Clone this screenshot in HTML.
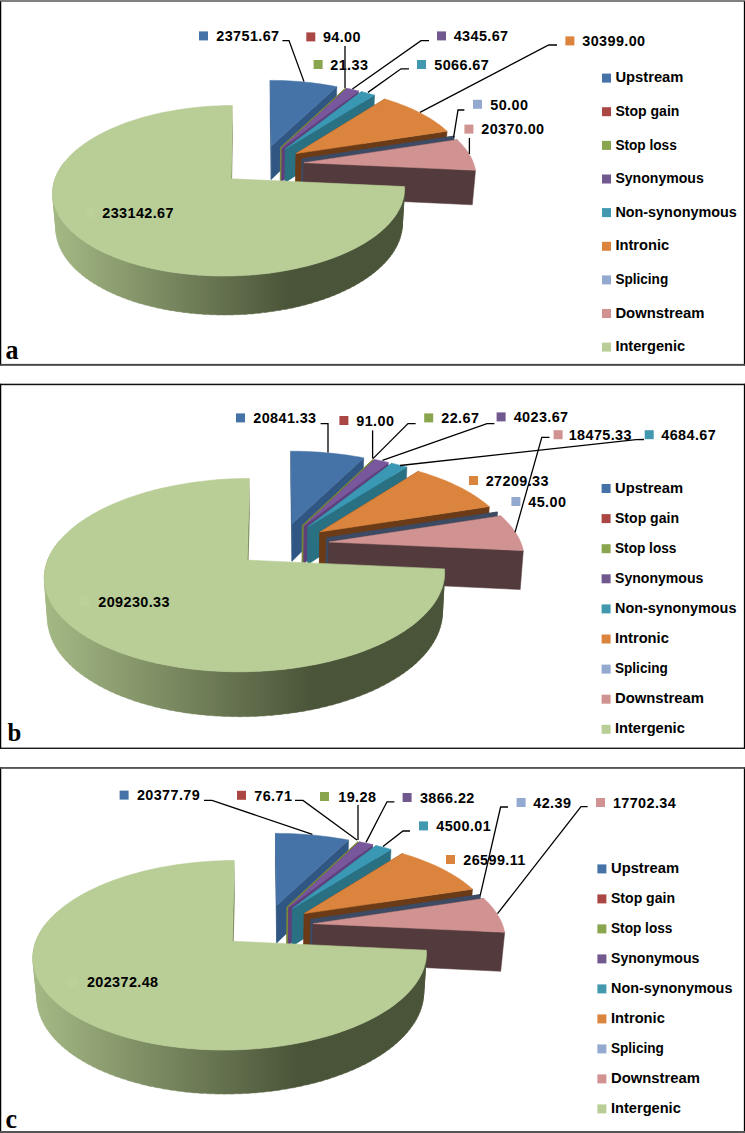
<!DOCTYPE html>
<html><head><meta charset="utf-8"><title>Figure</title>
<style>html,body{margin:0;padding:0;background:#fff}body{width:745px;height:1133px;overflow:hidden;font-family:"Liberation Sans",sans-serif}</style></head>
<body>
<svg width="745" height="1133" viewBox="0 0 745 1133" style="display:block">
<defs><linearGradient id="gA" gradientUnits="userSpaceOnUse" x1="52" y1="0" x2="290" y2="0"><stop offset="0" stop-color="#A5B985"/><stop offset="1" stop-color="#4A5438"/></linearGradient><linearGradient id="gB" gradientUnits="userSpaceOnUse" x1="43.6" y1="0" x2="314" y2="0"><stop offset="0" stop-color="#A5B985"/><stop offset="1" stop-color="#4A5438"/></linearGradient><linearGradient id="gC" gradientUnits="userSpaceOnUse" x1="32.4" y1="0" x2="299" y2="0"><stop offset="0" stop-color="#A5B985"/><stop offset="1" stop-color="#4A5438"/></linearGradient></defs>
<rect width="745" height="1133" fill="#fff"/>
<g>
<rect x="0" y="0" width="1.25" height="365.5" fill="#000"/>
<rect x="743.85" y="0" width="1.15" height="365.5" fill="#000"/>
<rect x="0" y="383.8" width="1.25" height="365" fill="#000"/>
<rect x="743.85" y="383.8" width="1.15" height="365" fill="#000"/>
<rect x="0" y="767.2" width="1.25" height="365.8" fill="#000"/>
<rect x="743.85" y="767.2" width="1.15" height="365.8" fill="#000"/>
<rect x="0" y="0" width="745" height="1" fill="#808080"/><rect x="0" y="1" width="745" height="0.7" fill="#4a4a4a"/>
<rect x="0" y="363.9" width="745" height="1.9" fill="#444"/>
<rect x="0" y="383.7" width="745" height="1.5" fill="#111"/>
<rect x="0" y="747.6" width="745" height="1.35" fill="#111"/>
<rect x="0" y="767.1" width="745" height="1.7" fill="#444"/>
<rect x="0" y="1131" width="745" height="2" fill="#555"/>
</g>
<g shape-rendering="geometricPrecision">
<path d="M271.3,146 L270.2,80.4 L270.1,110.7 L271.2,179.5Z" fill="#305683" stroke="#305683" stroke-width="0.5" stroke-linejoin="round"/>
<path d="M271.3,146 L336.8,86.7 L335.9,117.4 L271.2,179.5Z" fill="#305683" stroke="#305683" stroke-width="0.5" stroke-linejoin="round"/>
<path d="M271.3,146 L270.2,80.4 L274.2,80.4 L278.2,80.5 L282.2,80.6 L286.2,80.7 L290.2,80.9 L294.2,81.2 L298.1,81.5 L302.1,81.8 L306,82.2 L310,82.6 L313.9,83.1 L317.8,83.6 L321.6,84.1 L325.5,84.7 L329.3,85.3 L333.1,86 L336.8,86.7Z" fill="#4572A7" stroke="#4572A7" stroke-width="0.5" stroke-linejoin="round"/>
<path d="M280.5,147.5 L345.5,88 L344.5,118.8 L280.3,181.1Z" fill="#78863A" stroke="#78863A" stroke-width="0.9" stroke-linejoin="round"/>
<path d="M282.1,147.9 L347,88.3 L345.9,119.1 L281.8,181.5Z" fill="#5F407C" stroke="#5F407C" stroke-width="0.5" stroke-linejoin="round"/>
<path d="M282.1,147.9 L358.5,90.9 L357.3,121.8 L281.8,181.5Z" fill="#5F407C" stroke="#5F407C" stroke-width="0.5" stroke-linejoin="round"/>
<path d="M282.1,147.9 L347,88.3 L350.9,89.1 L354.7,90 L358.5,90.9Z" fill="#79579D" stroke="#79579D" stroke-width="0.5" stroke-linejoin="round"/>
<path d="M285.4,148.9 L361.6,91.6 L360.3,122.5 L285.1,182.5Z" fill="#2A7083" stroke="#2A7083" stroke-width="0.5" stroke-linejoin="round"/>
<path d="M285.4,148.9 L374.6,95.1 L373.1,126.2 L285.1,182.5Z" fill="#2A7083" stroke="#2A7083" stroke-width="0.5" stroke-linejoin="round"/>
<path d="M285.4,148.9 L361.6,91.6 L366,92.8 L370.3,93.9 L374.6,95.1Z" fill="#3B98B4" stroke="#3B98B4" stroke-width="0.5" stroke-linejoin="round"/>
<path d="M296,153.6 L384.8,99 L383.2,130.2 L295.5,187.4Z" fill="#6A3B16" stroke="#6A3B16" stroke-width="0.5" stroke-linejoin="round"/>
<path d="M296,153.6 L447.1,131.2 L444.5,164 L295.5,187.4Z" fill="#6A3B16" stroke="#6A3B16" stroke-width="0.5" stroke-linejoin="round"/>
<path d="M296,153.6 L384.8,99 L388.3,100.1 L391.7,101.2 L395.1,102.3 L398.5,103.5 L401.7,104.7 L405,106 L408.1,107.3 L411.2,108.6 L414.3,110 L417.3,111.4 L420.2,112.9 L423,114.4 L425.8,115.9 L428.5,117.5 L431.1,119.1 L433.6,120.7 L436.1,122.4 L438.4,124.1 L440.7,125.8 L442.9,127.6 L445,129.4 L447.1,131.2Z" fill="#DB843D" stroke="#DB843D" stroke-width="0.5" stroke-linejoin="round"/>
<path d="M302,158.8 L454.1,136 L451.5,169 L301.4,192.8Z" fill="#3D4A63" stroke="#3D4A63" stroke-width="0.5" stroke-linejoin="round"/>
<path d="M302,158.8 L454.2,136.1 L451.5,169.1 L301.4,192.8Z" fill="#3D4A63" stroke="#3D4A63" stroke-width="0.5" stroke-linejoin="round"/>
<path d="M304,162.7 L457.2,139.7 L454.4,172.8 L303.4,196.9Z" fill="#533A3C" stroke="#533A3C" stroke-width="0.5" stroke-linejoin="round"/>
<path d="M304,162.7 L475.5,170.3 L472.3,204.8 L303.4,196.9Z" fill="#533A3C" stroke="#533A3C" stroke-width="0.5" stroke-linejoin="round"/>
<path d="M304,162.7 L457.2,139.7 L459.1,141.6 L461,143.5 L462.7,145.4 L464.4,147.4 L465.9,149.3 L467.4,151.3 L468.7,153.4 L470,155.4 L471.1,157.5 L472.1,159.6 L473,161.7 L473.8,163.8 L474.5,166 L475,168.1 L475.5,170.3Z" fill="#D19392" stroke="#D19392" stroke-width="0.5" stroke-linejoin="round"/>
<path d="M231,178.8 L232.4,105.5 L232.8,137.1 L231.5,213.7Z" fill="#7F8F62" />
<path d="M404.5,186.6 L404.5,191.1 L402.3,226.6 L402.4,221.9ZM402.4,225 L402,229.7 L404.2,194.1 L404.6,189.6ZM402.2,228.2 L401.5,232.9 L403.7,197.2 L404.4,192.6ZM401.8,231.3 L400.7,236 L402.9,200.2 L404,195.7ZM401.1,234.5 L399.8,239.2 L401.9,203.2 L403.3,198.7ZM400.3,237.6 L398.6,242.4 L400.7,206.3 L402.5,201.7ZM399.2,240.8 L397.1,245.5 L399.3,209.3 L401.4,204.8ZM397.9,243.9 L395.5,248.7 L397.6,212.3 L400,207.8ZM396.3,247.1 L393.6,251.8 L395.7,215.3 L398.5,210.8ZM394.6,250.2 L391.5,254.9 L393.6,218.3 L396.7,213.8ZM392.6,253.4 L389.1,258 L391.2,221.3 L394.7,216.8ZM390.3,256.5 L386.5,261.1 L388.6,224.2 L392.4,219.8ZM387.9,259.5 L383.7,264.1 L385.7,227.1 L389.9,222.7ZM385.2,262.6 L380.7,267.1 L382.6,230 L387.2,225.7ZM382.2,265.6 L377.4,270 L379.3,232.8 L384.2,228.5ZM379.1,268.5 L373.9,272.9 L375.8,235.6 L381,231.4ZM375.7,271.4 L370.2,275.7 L372,238.3 L377.6,234.2ZM372.1,274.3 L366.3,278.5 L368,241 L373.9,236.9ZM368.3,277.1 L362.1,281.2 L363.8,243.6 L370,239.6ZM364.2,279.8 L357.8,283.8 L359.4,246.1 L365.9,242.3ZM360,282.5 L353.2,286.4 L354.7,248.5 L361.6,244.8ZM355.5,285.1 L348.4,288.9 L349.9,250.9 L357.1,247.3ZM350.8,287.6 L343.4,291.3 L344.8,253.2 L352.3,249.7ZM345.9,290.1 L338.3,293.6 L339.6,255.4 L347.4,252.1ZM340.9,292.4 L332.9,295.8 L334.2,257.6 L342.2,254.4ZM335.6,294.7 L327.4,297.9 L328.6,259.6 L336.9,256.5ZM330.2,296.8 L321.7,299.9 L322.8,261.5 L331.4,258.6ZM324.6,298.9 L315.9,301.8 L316.8,263.3 L325.7,260.6ZM318.8,300.8 L309.9,303.5 L310.7,265.1 L319.8,262.4ZM312.9,302.7 L303.8,305.2 L304.5,266.7 L313.8,264.2ZM306.8,304.4 L297.5,306.8 L298.1,268.1 L307.6,265.9ZM300.6,306 L291.1,308.2 L291.6,269.5 L301.3,267.4ZM294.3,307.5 L284.6,309.5 L285,270.7 L294.9,268.8ZM287.9,308.8 L278,310.6 L278.3,271.9 L288.3,270.1ZM281.3,310.1 L271.3,311.6 L271.5,272.8 L281.7,271.3ZM274.7,311.1 L264.6,312.5 L264.6,273.7 L274.9,272.4ZM267.9,312.1 L257.7,313.3 L257.7,274.4 L268.1,273.3ZM261.1,312.9 L250.8,313.9 L250.7,275 L261.1,274.1ZM254.3,313.6 L243.9,314.4 L243.6,275.5 L254.2,274.7ZM247.4,314.1 L237,314.7 L236.5,275.8 L247.1,275.2ZM240.5,314.5 L230,314.9 L229.5,276 L240.1,275.6ZM233.5,314.8 L223,314.9 L222.4,276 L233,275.9ZM226.5,314.9 L216.1,314.8 L215.3,275.9 L225.9,276ZM219.6,314.9 L209.2,314.6 L208.2,275.7 L218.8,276ZM212.6,314.7 L202.3,314.2 L201.2,275.3 L211.8,275.8ZM205.7,314.4 L195.4,313.6 L194.2,274.8 L204.7,275.5ZM198.8,313.9 L188.6,313 L187.3,274.1 L197.7,275ZM192,313.3 L181.9,312.2 L180.5,273.3 L190.8,274.5ZM185.2,312.6 L175.3,311.2 L173.7,272.4 L183.9,273.7ZM178.6,311.7 L168.7,310.1 L167.1,271.4 L177.1,272.9ZM172,310.7 L162.3,308.9 L160.6,270.2 L170.4,271.9ZM165.5,309.5 L156,307.6 L154.1,268.9 L163.8,270.8ZM159.1,308.3 L149.8,306.1 L147.8,267.5 L157.3,269.6ZM152.9,306.8 L143.7,304.5 L141.7,266 L151,268.2ZM146.8,305.3 L137.8,302.8 L135.7,264.3 L144.7,266.8ZM140.8,303.7 L132.1,301 L129.9,262.6 L138.7,265.2ZM135,301.9 L126.5,299 L124.2,260.7 L132.8,263.5ZM129.3,300 L121.1,297 L118.7,258.7 L127,261.6ZM123.8,298 L115.9,294.8 L113.4,256.7 L121.4,259.7ZM118.5,295.9 L110.9,292.6 L108.3,254.5 L116,257.7ZM113.4,293.7 L106,290.2 L103.4,252.2 L110.8,255.6ZM108.4,291.4 L101.4,287.8 L98.7,249.9 L105.8,253.4ZM103.7,289 L97,285.3 L94.2,247.5 L101,251.1ZM99.2,286.6 L92.8,282.7 L89.9,245 L96.4,248.7ZM94.8,284 L88.8,280 L85.9,242.4 L92,246.3ZM90.7,281.4 L85,277.3 L82,239.8 L87.8,243.7ZM86.8,278.7 L81.4,274.5 L78.4,237.1 L83.9,241.1ZM83.2,275.9 L78.1,271.6 L75.1,234.4 L80.2,238.5ZM79.7,273.1 L75,268.7 L71.9,231.6 L76.7,235.8ZM76.5,270.2 L72.1,265.8 L69,228.7 L73.5,233ZM73.5,267.3 L69.5,262.8 L66.4,225.9 L70.4,230.2ZM70.8,264.3 L67.1,259.7 L63.9,222.9 L67.7,227.3ZM68.3,261.3 L64.9,256.7 L61.7,220 L65.1,224.4ZM66,258.2 L63,253.6 L59.8,217 L62.8,221.5ZM63.9,255.1 L61.3,250.4 L58.1,214 L60.7,218.5ZM62.1,252 L59.8,247.3 L56.6,211 L58.9,215.5ZM60.5,248.9 L58.6,244.2 L55.4,208 L57.3,212.5ZM59.2,245.7 L57.6,241 L54.4,205 L56,209.5ZM58.1,242.6 L56.8,237.8 L53.6,201.9 L54.8,206.5ZM57.2,239.4 L56.3,234.7 L53,198.9 L53.9,203.4ZM56.5,236.3 L55.9,231.5 L52.7,195.9 L53.3,200.4ZM52.9,197.4 L52.6,192.8 L55.8,228.4 L56.1,233.1ZM52.7,194.3 L52.8,189.8 L55.9,225.2 L55.9,229.9ZM52.7,191.3 L53.1,186.8 L56.3,222.1 L55.9,226.8ZM52.9,188.3 L53.7,183.9 L56.8,219 L56.1,223.7ZM53.4,185.3 L54.4,180.9 L57.5,215.9 L56.5,220.5ZM54,182.4 L55.4,178 L58.5,212.9 L57.1,217.5ZM54.9,179.5 L56.6,175.1 L59.6,209.9 L58,214.4ZM56,176.5 L57.9,172.2 L60.9,206.9 L59,211.4ZM57.2,173.7 L59.5,169.4 L62.5,203.9 L60.2,208.4ZM58.7,170.8 L61.2,166.6 L64.2,201 L61.7,205.4ZM60.3,168 L63.2,163.9 L66.1,198.1 L63.3,202.5ZM62.2,165.3 L64.8,161.8 L67.7,195.9 L65.1,199.6ZM64.2,162.5 L64.8,161.8 L67.7,195.9 L67.1,196.7Z" fill="url(#gA)" fill-rule="nonzero" stroke="url(#gA)" stroke-width="0.4"/>
<path d="M231,178.8 L404.5,186.6 L404.6,188.9 L404.5,191.1 L404.3,193.4 L404,195.7 L403.5,198 L402.9,200.2 L402.2,202.5 L401.4,204.8 L400.4,207.1 L399.3,209.3 L398,211.6 L396.7,213.9 L395.2,216.1 L393.5,218.4 L391.7,220.6 L389.8,222.8 L387.8,225 L385.6,227.2 L383.3,229.3 L380.9,231.5 L378.3,233.6 L375.7,235.7 L372.8,237.7 L369.9,239.7 L366.8,241.7 L363.6,243.7 L360.3,245.6 L356.9,247.4 L353.3,249.3 L349.6,251 L345.9,252.8 L342,254.5 L338,256.1 L333.9,257.7 L329.7,259.2 L325.3,260.7 L321,262.1 L316.5,263.4 L311.9,264.7 L307.2,266 L302.5,267.1 L297.7,268.2 L292.8,269.3 L287.9,270.2 L282.9,271.1 L277.8,271.9 L272.7,272.7 L267.5,273.4 L262.3,273.9 L257.1,274.5 L251.8,274.9 L246.5,275.3 L241.2,275.6 L235.9,275.8 L230.6,275.9 L225.3,276 L219.9,276 L214.6,275.9 L209.3,275.7 L204,275.4 L198.8,275.1 L193.5,274.7 L188.4,274.2 L183.2,273.7 L178.1,273 L173,272.3 L168,271.5 L163.1,270.7 L158.2,269.8 L153.4,268.8 L148.7,267.7 L144,266.6 L139.5,265.4 L135,264.1 L130.6,262.8 L126.3,261.4 L122.1,260 L118,258.5 L114,256.9 L110.2,255.3 L106.4,253.7 L102.7,251.9 L99.2,250.2 L95.8,248.4 L92.5,246.5 L89.3,244.6 L86.3,242.7 L83.4,240.8 L80.6,238.8 L77.9,236.7 L75.4,234.7 L73,232.6 L70.7,230.4 L68.6,228.3 L66.6,226.1 L64.7,223.9 L63,221.7 L61.4,219.5 L60,217.3 L58.6,215 L57.4,212.8 L56.4,210.5 L55.5,208.2 L54.7,206 L54,203.7 L53.5,201.4 L53.1,199.1 L52.8,196.8 L52.7,194.6 L52.6,192.3 L52.7,190 L53,187.8 L53.3,185.5 L53.8,183.3 L54.4,181.1 L55.1,178.9 L55.9,176.7 L56.8,174.6 L57.8,172.4 L59,170.3 L60.2,168.2 L61.6,166.1 L63.1,164 L64.6,162 L66.3,160 L68,158 L69.9,156 L71.8,154.1 L73.9,152.2 L76,150.3 L78.2,148.5 L80.5,146.7 L82.9,144.9 L85.3,143.2 L87.8,141.5 L90.4,139.8 L93.1,138.2 L95.9,136.6 L98.7,135 L101.6,133.5 L104.5,132 L107.5,130.5 L110.6,129.1 L113.8,127.7 L116.9,126.4 L120.2,125.1 L123.5,123.8 L126.8,122.6 L130.2,121.4 L133.7,120.3 L137.2,119.2 L140.7,118.1 L144.3,117.1 L147.9,116.1 L151.5,115.2 L155.2,114.3 L158.9,113.4 L162.6,112.6 L166.4,111.9 L170.2,111.2 L174,110.5 L177.9,109.8 L181.8,109.3 L185.7,108.7 L189.6,108.2 L193.5,107.7 L197.4,107.3 L201.4,107 L205.4,106.6 L209.4,106.3 L213.3,106.1 L217.3,105.9 L221.3,105.7 L225.3,105.6 L229.3,105.6 L232.4,105.5Z" fill="#B9CD96" stroke="#B9CD96" stroke-width="0.6" stroke-linejoin="round"/>
<path d="M292.1,523.7 L290.8,451.2 L290.7,484.7 L292,561.2Z" fill="#305683" stroke="#305683" stroke-width="0.5" stroke-linejoin="round"/>
<path d="M292.1,523.7 L363.7,457.9 L362.8,491.8 L292,561.2Z" fill="#305683" stroke="#305683" stroke-width="0.5" stroke-linejoin="round"/>
<path d="M292.1,523.7 L290.8,451.2 L295.2,451.2 L299.6,451.3 L303.9,451.4 L308.3,451.6 L312.7,451.8 L317,452 L321.4,452.3 L325.7,452.7 L330,453.1 L334.3,453.5 L338.6,454 L342.8,454.5 L347.1,455.1 L351.3,455.7 L355.5,456.4 L359.6,457.1 L363.7,457.9Z" fill="#4572A7" stroke="#4572A7" stroke-width="0.5" stroke-linejoin="round"/>
<path d="M302.3,525.4 L373.2,459.2 L372.2,493.2 L302,562.9Z" fill="#78863A" stroke="#78863A" stroke-width="0.9" stroke-linejoin="round"/>
<path d="M304.1,525.8 L374.9,459.5 L373.9,493.5 L303.8,563.4Z" fill="#5F407C" stroke="#5F407C" stroke-width="0.5" stroke-linejoin="round"/>
<path d="M304.1,525.8 L388.3,462.4 L387.1,496.5 L303.8,563.4Z" fill="#5F407C" stroke="#5F407C" stroke-width="0.5" stroke-linejoin="round"/>
<path d="M304.1,525.8 L374.9,459.5 L379.4,460.4 L383.9,461.4 L388.3,462.4Z" fill="#79579D" stroke="#79579D" stroke-width="0.5" stroke-linejoin="round"/>
<path d="M307.9,526.8 L391.8,463.2 L390.6,497.4 L307.6,564.5Z" fill="#2A7083" stroke="#2A7083" stroke-width="0.5" stroke-linejoin="round"/>
<path d="M307.9,526.8 L406.9,467.1 L405.5,501.5 L307.6,564.5Z" fill="#2A7083" stroke="#2A7083" stroke-width="0.5" stroke-linejoin="round"/>
<path d="M307.9,526.8 L391.8,463.2 L396.9,464.4 L401.9,465.8 L406.9,467.1Z" fill="#3B98B4" stroke="#3B98B4" stroke-width="0.5" stroke-linejoin="round"/>
<path d="M319.8,532 L418.3,471.3 L416.8,505.9 L319.3,570Z" fill="#6A3B16" stroke="#6A3B16" stroke-width="0.5" stroke-linejoin="round"/>
<path d="M319.8,532 L489.3,506.6 L486.8,543.2 L319.3,570Z" fill="#6A3B16" stroke="#6A3B16" stroke-width="0.5" stroke-linejoin="round"/>
<path d="M319.8,532 L418.3,471.3 L422.2,472.4 L426.1,473.6 L429.9,474.9 L433.7,476.2 L437.4,477.5 L441.1,478.9 L444.7,480.3 L448.2,481.8 L451.6,483.3 L455,484.9 L458.3,486.5 L461.6,488.1 L464.7,489.8 L467.8,491.5 L470.8,493.3 L473.7,495.1 L476.6,496.9 L479.3,498.8 L481.9,500.7 L484.5,502.6 L486.9,504.6 L489.3,506.6Z" fill="#DB843D" stroke="#DB843D" stroke-width="0.5" stroke-linejoin="round"/>
<path d="M326.5,537.8 L497.3,511.9 L494.7,548.7 L326,576Z" fill="#3D4A63" stroke="#3D4A63" stroke-width="0.5" stroke-linejoin="round"/>
<path d="M326.5,537.8 L497.4,512 L494.8,548.8 L326,576Z" fill="#3D4A63" stroke="#3D4A63" stroke-width="0.5" stroke-linejoin="round"/>
<path d="M328.9,542.1 L500.9,515.9 L498.3,553 L328.3,580.6Z" fill="#533A3C" stroke="#533A3C" stroke-width="0.5" stroke-linejoin="round"/>
<path d="M328.9,542.1 L523.3,550.6 L520.2,589.5 L328.3,580.6Z" fill="#533A3C" stroke="#533A3C" stroke-width="0.5" stroke-linejoin="round"/>
<path d="M328.9,542.1 L500.9,515.9 L503.3,518 L505.5,520.2 L507.6,522.4 L509.6,524.6 L511.4,526.8 L513.2,529.1 L514.8,531.4 L516.3,533.7 L517.7,536 L519,538.4 L520.1,540.8 L521.1,543.2 L522,545.6 L522.7,548.1 L523.3,550.6Z" fill="#D19392" stroke="#D19392" stroke-width="0.5" stroke-linejoin="round"/>
<path d="M247.1,560.1 L249.4,478.5 L249.8,513.5 L247.6,599.5Z" fill="#7F8F62" />
<path d="M444.5,568.9 L444.6,573.9 L442.4,614.1 L442.4,608.7ZM444.7,572.2 L444.4,577.4 L442.2,617.7 L442.5,612.3ZM442.3,615.9 L441.7,621.3 L443.9,580.8 L444.5,575.7ZM442,619.5 L440.9,624.9 L443.1,584.3 L444.2,579.1ZM441.3,623.1 L439.9,628.5 L442.1,587.7 L443.5,582.5ZM440.4,626.7 L438.6,632.2 L440.8,591.2 L442.6,586ZM439.3,630.3 L437.1,635.8 L439.3,594.6 L441.5,589.4ZM437.9,634 L435.3,639.4 L437.5,598.1 L440.1,592.9ZM436.2,637.6 L433.2,643 L435.4,601.5 L438.4,596.3ZM434.3,641.2 L430.9,646.6 L433,604.9 L436.5,599.8ZM432.1,644.8 L428.3,650.2 L430.4,608.3 L434.2,603.2ZM429.6,648.4 L425.4,653.7 L427.5,611.7 L431.7,606.6ZM426.9,651.9 L422.3,657.2 L424.3,615 L429,610ZM423.9,655.4 L418.9,660.6 L420.9,618.3 L425.9,613.4ZM420.6,658.9 L415.2,664 L417.2,621.6 L422.6,616.7ZM417.1,662.4 L411.3,667.4 L413.2,624.8 L419.1,619.9ZM413.3,665.7 L407.1,670.7 L408.9,627.9 L415.2,623.2ZM409.2,669.1 L402.6,673.9 L404.4,631 L411.1,626.3ZM404.9,672.3 L397.9,677.1 L399.6,634 L406.7,629.4ZM400.3,675.5 L392.9,680.1 L394.6,636.9 L402.1,632.5ZM395.5,678.6 L387.7,683.1 L389.3,639.8 L397.2,635.4ZM390.4,681.6 L382.3,686 L383.8,642.5 L392,638.3ZM385.1,684.6 L376.6,688.8 L378.1,645.2 L386.6,641.1ZM379.5,687.4 L370.7,691.5 L372.1,647.8 L381,643.9ZM373.7,690.2 L364.6,694.1 L365.9,650.2 L375.1,646.5ZM367.7,692.8 L358.3,696.6 L359.5,652.6 L369,649ZM361.5,695.3 L351.8,698.9 L352.8,654.8 L362.7,651.4ZM355.1,697.8 L345.1,701.1 L346,656.9 L356.2,653.7ZM348.4,700 L338.2,703.2 L339,658.9 L349.5,655.9ZM341.6,702.2 L331.1,705.2 L331.9,660.8 L342.6,658ZM334.6,704.2 L323.9,707 L324.5,662.5 L335.5,659.9ZM327.5,706.1 L316.5,708.7 L317.1,664.1 L328.2,661.7ZM320.2,707.9 L309,710.2 L309.4,665.6 L320.8,663.4ZM312.8,709.4 L301.4,711.6 L301.7,666.9 L313.3,664.9ZM305.2,710.9 L293.7,712.8 L293.9,668.1 L305.6,666.3ZM297.5,712.2 L285.9,713.8 L285.9,669.1 L297.8,667.5ZM289.8,713.3 L278,714.7 L277.9,669.9 L289.9,668.6ZM281.9,714.3 L270,715.4 L269.8,670.6 L281.9,669.5ZM274,715.1 L262,716 L261.7,671.1 L273.9,670.3ZM266,715.7 L254,716.4 L253.5,671.5 L265.8,670.9ZM258,716.2 L245.9,716.6 L245.3,671.7 L257.6,671.3ZM249.9,716.5 L237.9,716.7 L237.2,671.8 L249.4,671.6ZM241.9,716.7 L229.8,716.5 L229,671.7 L241.2,671.8ZM233.8,716.6 L221.8,716.3 L220.8,671.4 L233.1,671.7ZM225.8,716.4 L213.8,715.8 L212.7,671 L224.9,671.5ZM217.8,716.1 L205.9,715.2 L204.7,670.4 L216.8,671.2ZM209.8,715.5 L198,714.4 L196.7,669.6 L208.7,670.7ZM202,714.8 L190.3,713.5 L188.8,668.7 L200.7,670ZM194.2,714 L182.6,712.4 L181.1,667.7 L192.8,669.2ZM186.4,712.9 L175.1,711.1 L173.4,666.4 L184.9,668.2ZM178.8,711.7 L167.7,709.7 L165.9,665.1 L177.2,667.1ZM171.4,710.4 L160.4,708.1 L158.5,663.6 L169.6,665.8ZM164,708.9 L153.3,706.4 L151.3,661.9 L162.2,664.4ZM156.8,707.2 L146.3,704.5 L144.2,660.2 L154.9,662.8ZM149.8,705.4 L139.5,702.5 L137.3,658.2 L147.7,661.1ZM142.9,703.5 L132.9,700.4 L130.6,656.2 L140.7,659.2ZM136.2,701.4 L126.5,698.1 L124.1,654 L134,657.2ZM129.7,699.2 L120.4,695.7 L117.9,651.7 L127.4,655.1ZM123.4,696.9 L114.4,693.2 L111.8,649.3 L121,652.9ZM117.3,694.5 L108.6,690.6 L106,646.8 L114.8,650.6ZM111.5,691.9 L103.1,687.8 L100.4,644.2 L108.9,648.1ZM105.9,689.2 L97.9,685 L95.1,641.5 L103.2,645.6ZM100.5,686.4 L92.8,682.1 L90,638.7 L97.7,642.9ZM95.3,683.5 L88.1,679 L85.1,635.9 L92.5,640.1ZM90.4,680.6 L83.5,675.9 L80.6,632.9 L87.5,637.3ZM85.8,677.5 L79.3,672.8 L76.3,629.9 L82.8,634.4ZM81.4,674.4 L75.3,669.5 L72.2,626.8 L78.4,631.4ZM77.2,671.2 L71.5,666.2 L68.4,623.6 L74.2,628.3ZM73.4,667.9 L68.1,662.8 L64.9,620.4 L70.3,625.2ZM69.8,664.5 L64.9,659.4 L61.7,617.1 L66.7,622ZM66.4,661.1 L62,655.9 L58.8,613.8 L63.3,618.8ZM63.4,657.7 L59.3,652.4 L56.1,610.5 L60.2,615.5ZM60.6,654.2 L56.9,648.9 L53.7,607.1 L57.4,612.2ZM58.1,650.7 L54.8,645.3 L51.6,603.7 L54.9,608.8ZM55.9,647.1 L53,641.7 L49.7,600.3 L52.6,605.4ZM53.9,643.5 L51.4,638.1 L48.2,596.8 L50.6,602ZM52.2,639.9 L50.1,634.5 L46.9,593.4 L48.9,598.6ZM50.7,636.3 L49.1,630.8 L45.8,589.9 L47.5,595.1ZM49.6,632.7 L48.3,627.2 L45.1,586.5 L46.3,591.6ZM48.7,629 L47.8,623.6 L44.6,583 L45.4,588.2ZM48,625.4 L47.5,620 L44.3,579.6 L44.8,584.7ZM44.4,581.3 L44.3,576.1 L47.5,616.4 L47.6,621.8ZM44.3,577.9 L44.6,572.7 L47.8,612.8 L47.5,618.2ZM44.4,574.4 L45.1,569.3 L48.2,609.2 L47.6,614.6ZM44.8,571 L45.8,566 L49,605.7 L48,611ZM45.4,567.6 L46.8,562.6 L49.9,602.2 L48.6,607.4ZM46.3,564.3 L48,559.3 L51.1,598.7 L49.4,603.9ZM47.4,561 L49.4,556.1 L52.5,595.3 L50.5,600.4ZM48.7,557.7 L51.1,552.8 L54.1,591.9 L51.8,597ZM50.2,554.5 L53,549.7 L55.9,588.5 L53.3,593.6ZM52,551.2 L55.1,546.5 L58,585.2 L55,590.2ZM54,548.1 L57.3,543.4 L60.2,582 L56.9,586.9ZM56.2,545 L59.4,540.9 L62.2,579.4 L59.1,583.6ZM58.6,541.9 L59.4,540.9 L62.2,579.4 L61.4,580.4Z" fill="url(#gB)" fill-rule="nonzero" stroke="url(#gB)" stroke-width="0.4"/>
<path d="M247.1,560.1 L444.5,568.9 L444.6,571.4 L444.6,574 L444.5,576.5 L444.2,579.1 L443.7,581.7 L443.1,584.3 L442.4,586.9 L441.5,589.5 L440.4,592.1 L439.2,594.7 L437.9,597.3 L436.4,599.9 L434.8,602.4 L433,605 L431,607.6 L428.9,610.1 L426.6,612.6 L424.2,615.1 L421.6,617.6 L418.9,620.1 L416,622.5 L413,624.9 L409.8,627.2 L406.5,629.6 L403,631.9 L399.4,634.1 L395.7,636.3 L391.7,638.5 L387.7,640.6 L383.5,642.7 L379.2,644.7 L374.8,646.6 L370.2,648.5 L365.5,650.4 L360.7,652.2 L355.8,653.9 L350.7,655.5 L345.6,657.1 L340.3,658.6 L334.9,660 L329.5,661.4 L324,662.7 L318.3,663.9 L312.7,665 L306.9,666 L301.1,667 L295.2,667.9 L289.2,668.7 L283.2,669.4 L277.2,670 L271.1,670.5 L265,670.9 L258.9,671.3 L252.7,671.5 L246.6,671.7 L240.4,671.8 L234.3,671.8 L228.1,671.6 L222,671.4 L215.9,671.1 L209.8,670.8 L203.8,670.3 L197.8,669.7 L191.9,669.1 L186,668.3 L180.1,667.5 L174.4,666.6 L168.7,665.6 L163.1,664.5 L157.6,663.4 L152.1,662.1 L146.8,660.8 L141.5,659.4 L136.4,658 L131.4,656.4 L126.5,654.8 L121.7,653.2 L117,651.4 L112.5,649.6 L108,647.7 L103.7,645.8 L99.6,643.8 L95.6,641.8 L91.7,639.7 L88,637.6 L84.4,635.4 L81,633.2 L77.7,630.9 L74.6,628.6 L71.6,626.3 L68.7,623.9 L66.1,621.5 L63.6,619 L61.2,616.6 L59,614.1 L56.9,611.6 L55,609 L53.3,606.5 L51.7,603.9 L50.3,601.4 L49,598.8 L47.9,596.2 L46.9,593.6 L46.1,591 L45.5,588.4 L44.9,585.8 L44.6,583.2 L44.4,580.6 L44.3,578 L44.3,575.5 L44.6,572.9 L44.9,570.3 L45.4,567.8 L46,565.3 L46.8,562.8 L47.6,560.3 L48.6,557.8 L49.8,555.4 L51,553 L52.4,550.6 L53.9,548.2 L55.5,545.8 L57.3,543.5 L59.1,541.2 L61.1,539 L63.1,536.7 L65.3,534.6 L67.6,532.4 L69.9,530.3 L72.4,528.2 L75,526.1 L77.6,524.1 L80.3,522.1 L83.2,520.2 L86.1,518.3 L89.1,516.4 L92.1,514.6 L95.3,512.8 L98.5,511 L101.8,509.3 L105.2,507.7 L108.6,506.1 L112.1,504.5 L115.7,503 L119.3,501.5 L123,500 L126.7,498.6 L130.5,497.3 L134.4,496 L138.3,494.7 L142.2,493.5 L146.2,492.3 L150.2,491.2 L154.3,490.1 L158.4,489.1 L162.6,488.1 L166.7,487.2 L171,486.3 L175.2,485.4 L179.5,484.7 L183.8,483.9 L188.1,483.2 L192.5,482.6 L196.9,481.9 L201.2,481.4 L205.7,480.9 L210.1,480.4 L214.5,480 L219,479.6 L223.4,479.3 L227.9,479.1 L232.4,478.8 L236.9,478.7 L241.3,478.6 L245.8,478.5 L249.4,478.5Z" fill="#B9CD96" stroke="#B9CD96" stroke-width="0.6" stroke-linejoin="round"/>
<path d="M276.8,905.3 L275.5,833.3 L275.4,867.4 L276.7,943Z" fill="#305683" stroke="#305683" stroke-width="0.5" stroke-linejoin="round"/>
<path d="M276.8,905.3 L348.6,840.1 L347.4,874.6 L276.7,943Z" fill="#305683" stroke="#305683" stroke-width="0.5" stroke-linejoin="round"/>
<path d="M276.8,905.3 L275.5,833.3 L279.9,833.4 L284.3,833.4 L288.7,833.6 L293.1,833.7 L297.5,833.9 L301.8,834.2 L306.2,834.5 L310.5,834.9 L314.8,835.2 L319.1,835.7 L323.4,836.2 L327.7,836.7 L331.9,837.3 L336.1,837.9 L340.3,838.6 L344.4,839.3 L348.6,840.1Z" fill="#4572A7" stroke="#4572A7" stroke-width="0.5" stroke-linejoin="round"/>
<path d="M286.9,907 L358,841.5 L356.7,876 L286.6,944.7Z" fill="#78863A" stroke="#78863A" stroke-width="0.9" stroke-linejoin="round"/>
<path d="M288.7,907.4 L359.7,841.8 L358.3,876.3 L288.4,945.2Z" fill="#5F407C" stroke="#5F407C" stroke-width="0.5" stroke-linejoin="round"/>
<path d="M288.7,907.4 L372.8,844.6 L371.2,879.3 L288.4,945.2Z" fill="#5F407C" stroke="#5F407C" stroke-width="0.5" stroke-linejoin="round"/>
<path d="M288.7,907.4 L359.7,841.8 L364.1,842.7 L368.4,843.6 L372.8,844.6Z" fill="#79579D" stroke="#79579D" stroke-width="0.5" stroke-linejoin="round"/>
<path d="M292.5,908.4 L376.2,845.5 L374.7,880.2 L292,946.3Z" fill="#2A7083" stroke="#2A7083" stroke-width="0.5" stroke-linejoin="round"/>
<path d="M292.5,908.4 L391,849.4 L389.2,884.3 L292,946.3Z" fill="#2A7083" stroke="#2A7083" stroke-width="0.5" stroke-linejoin="round"/>
<path d="M292.5,908.4 L376.2,845.5 L381.2,846.7 L386.2,848 L391,849.4Z" fill="#3B98B4" stroke="#3B98B4" stroke-width="0.5" stroke-linejoin="round"/>
<path d="M304.2,913.6 L402.4,853.5 L400.4,888.7 L303.6,951.7Z" fill="#6A3B16" stroke="#6A3B16" stroke-width="0.5" stroke-linejoin="round"/>
<path d="M304.2,913.6 L472.5,889.2 L469.3,926.1 L303.6,951.7Z" fill="#6A3B16" stroke="#6A3B16" stroke-width="0.5" stroke-linejoin="round"/>
<path d="M304.2,913.6 L402.4,853.5 L406.1,854.7 L409.8,855.8 L413.5,857 L417.1,858.3 L420.6,859.6 L424.1,860.9 L427.5,862.3 L430.9,863.7 L434.2,865.1 L437.4,866.6 L440.6,868.1 L443.7,869.7 L446.7,871.3 L449.7,872.9 L452.5,874.6 L455.3,876.3 L458.1,878 L460.7,879.8 L463.2,881.6 L465.7,883.5 L468.1,885.3 L470.3,887.2 L472.5,889.2Z" fill="#DB843D" stroke="#DB843D" stroke-width="0.5" stroke-linejoin="round"/>
<path d="M310.9,919.4 L480.4,894.5 L477.1,931.6 L310.1,957.8Z" fill="#3D4A63" stroke="#3D4A63" stroke-width="0.5" stroke-linejoin="round"/>
<path d="M310.9,919.4 L480.5,894.5 L477.1,931.7 L310.1,957.8Z" fill="#3D4A63" stroke="#3D4A63" stroke-width="0.5" stroke-linejoin="round"/>
<path d="M313.1,923.7 L483.8,898.5 L480.4,935.8 L312.3,962.2Z" fill="#533A3C" stroke="#533A3C" stroke-width="0.5" stroke-linejoin="round"/>
<path d="M313.1,923.7 L504.7,932.3 L500.7,971.3 L312.3,962.2Z" fill="#533A3C" stroke="#533A3C" stroke-width="0.5" stroke-linejoin="round"/>
<path d="M313.1,923.7 L483.8,898.5 L486,900.5 L488.1,902.6 L490.1,904.8 L492,906.9 L493.7,909.1 L495.4,911.4 L496.9,913.6 L498.3,915.9 L499.6,918.2 L500.8,920.5 L501.8,922.8 L502.7,925.2 L503.5,927.6 L504.1,929.9 L504.7,932.3Z" fill="#D19392" stroke="#D19392" stroke-width="0.5" stroke-linejoin="round"/>
<path d="M232.2,941.2 L234.3,860.5 L234.8,896 L232.8,980.6Z" fill="#7F8F62" />
<path d="M426.4,950.2 L426.4,955.2 L423.7,995.2 L423.7,990ZM423.7,993.5 L423.3,998.7 L426.1,958.6 L426.5,953.5ZM423.5,997 L422.8,1002.2 L425.6,961.9 L426.3,956.9ZM423.1,1000.5 L422,1005.8 L424.7,965.3 L425.9,960.2ZM422.4,1004 L420.9,1009.3 L423.7,968.7 L425.2,963.6ZM421.5,1007.5 L419.6,1012.8 L422.3,972.1 L424.2,967ZM420.3,1011.1 L418,1016.4 L420.7,975.4 L423,970.4ZM418.8,1014.6 L416.1,1019.9 L418.9,978.8 L421.6,973.8ZM417.1,1018.1 L414.1,1023.4 L416.8,982.2 L419.9,977.1ZM415.1,1021.6 L411.7,1026.8 L414.4,985.5 L417.9,980.5ZM412.9,1025.1 L409.1,1030.3 L411.7,988.8 L415.6,983.8ZM410.4,1028.6 L406.2,1033.7 L408.8,992.1 L413.1,987.2ZM407.7,1032 L403.1,1037.1 L405.6,995.3 L410.3,990.5ZM404.7,1035.4 L399.7,1040.4 L402.2,998.5 L407.3,993.7ZM401.4,1038.8 L396,1043.7 L398.5,1001.7 L404,996.9ZM397.9,1042.1 L392.1,1047 L394.5,1004.8 L400.4,1000.1ZM394.1,1045.4 L388,1050.1 L390.3,1007.8 L396.5,1003.3ZM390.1,1048.6 L383.6,1053.2 L385.8,1010.8 L392.4,1006.3ZM385.8,1051.7 L378.9,1056.3 L381.1,1013.7 L388.1,1009.3ZM381.3,1054.8 L374,1059.2 L376.1,1016.6 L383.5,1012.3ZM376.5,1057.8 L368.9,1062.1 L370.9,1019.3 L378.6,1015.2ZM371.5,1060.7 L363.6,1064.9 L365.5,1022 L373.5,1018ZM366.3,1063.5 L358,1067.6 L359.8,1024.6 L368.2,1020.7ZM360.8,1066.2 L352.2,1070.2 L353.9,1027.1 L362.7,1023.3ZM355.1,1068.9 L346.2,1072.6 L347.8,1029.4 L356.9,1025.8ZM349.2,1071.4 L340,1075 L341.5,1031.7 L350.9,1028.3ZM343.1,1073.8 L333.6,1077.2 L335,1033.9 L344.6,1030.6ZM336.8,1076.1 L327,1079.4 L328.3,1035.9 L338.2,1032.8ZM330.4,1078.3 L320.3,1081.4 L321.4,1037.8 L331.6,1034.9ZM323.7,1080.4 L313.4,1083.2 L314.3,1039.6 L324.8,1036.9ZM316.9,1082.3 L306.4,1085 L307.2,1041.3 L317.9,1038.7ZM309.9,1084.1 L299.2,1086.5 L299.8,1042.8 L310.8,1040.5ZM302.8,1085.8 L291.9,1088 L292.4,1044.2 L303.5,1042.1ZM295.5,1087.3 L284.4,1089.3 L284.8,1045.4 L296.1,1043.5ZM288.2,1088.6 L276.9,1090.4 L277.1,1046.5 L288.6,1044.8ZM280.7,1089.9 L269.3,1091.4 L269.4,1047.5 L281,1046ZM273.1,1090.9 L261.6,1092.2 L261.5,1048.3 L273.3,1047ZM265.5,1091.8 L253.9,1092.9 L253.6,1049 L265.5,1047.9ZM257.8,1092.6 L246.1,1093.4 L245.7,1049.4 L257.6,1048.6ZM250,1093.2 L238.3,1093.8 L237.7,1049.8 L249.7,1049.2ZM242.2,1093.6 L230.4,1094 L229.7,1050 L241.7,1049.6ZM234.4,1093.9 L222.6,1094 L221.7,1050 L233.7,1049.9ZM226.5,1094 L214.8,1093.9 L213.7,1049.9 L225.7,1050ZM218.7,1094 L207,1093.6 L205.8,1049.6 L217.7,1050ZM210.9,1093.8 L199.3,1093.1 L197.9,1049.2 L209.8,1049.8ZM203.1,1093.4 L191.6,1092.5 L190,1048.6 L201.8,1049.4ZM195.4,1092.9 L183.9,1091.8 L182.3,1047.8 L194,1048.9ZM187.7,1092.2 L176.4,1090.8 L174.6,1046.9 L186.1,1048.2ZM180.2,1091.3 L169,1089.7 L167,1045.9 L178.4,1047.4ZM172.7,1090.3 L161.6,1088.5 L159.5,1044.7 L170.8,1046.4ZM165.3,1089.1 L154.4,1087.1 L152.2,1043.4 L163.2,1045.3ZM158,1087.8 L147.3,1085.6 L145,1041.9 L155.8,1044.1ZM150.9,1086.4 L140.4,1083.9 L137.9,1040.3 L148.5,1042.7ZM143.9,1084.8 L133.7,1082.1 L131,1038.5 L141.4,1041.1ZM137,1083 L127.1,1080.2 L124.3,1036.7 L134.4,1039.4ZM130.3,1081.1 L120.6,1078.1 L117.8,1034.7 L127.6,1037.6ZM123.8,1079.1 L114.4,1075.9 L111.4,1032.6 L121,1035.7ZM117.5,1077 L108.4,1073.6 L105.3,1030.3 L114.6,1033.6ZM111.4,1074.7 L102.6,1071.1 L99.4,1028 L108.3,1031.5ZM105.5,1072.4 L97,1068.6 L93.7,1025.6 L102.3,1029.2ZM99.8,1069.9 L91.6,1065.9 L88.2,1023 L96.5,1026.8ZM94.3,1067.3 L86.5,1063.2 L83,1020.4 L90.9,1024.3ZM89,1064.6 L81.6,1060.4 L78,1017.7 L85.6,1021.7ZM84,1061.8 L76.9,1057.4 L73.2,1014.9 L80.4,1019ZM79.2,1058.9 L72.5,1054.4 L68.7,1012 L75.6,1016.3ZM74.7,1055.9 L68.3,1051.4 L64.5,1009 L71,1013.4ZM70.4,1052.9 L64.4,1048.2 L60.5,1006 L66.6,1010.5ZM66.3,1049.8 L60.7,1045 L56.8,1002.9 L62.5,1007.5ZM62.5,1046.6 L57.3,1041.7 L53.4,999.8 L58.7,1004.5ZM59,1043.4 L54.2,1038.4 L50.2,996.6 L55.1,1001.3ZM55.7,1040.1 L51.3,1035 L47.3,993.4 L51.8,998.2ZM52.7,1036.7 L48.7,1031.6 L44.7,990.1 L48.7,995ZM50,1033.3 L46.4,1028.2 L42.3,986.8 L46,991.7ZM47.5,1029.9 L44.3,1024.7 L40.2,983.5 L43.4,988.4ZM45.3,1026.5 L42.5,1021.2 L38.4,980.1 L41.2,985.1ZM43.4,1023 L40.9,1017.7 L36.8,976.8 L39.2,981.8ZM41.7,1019.5 L39.6,1014.2 L35.5,973.4 L37.6,978.4ZM40.2,1016 L38.6,1010.7 L34.5,970 L36.1,975.1ZM39.1,1012.4 L37.8,1007.1 L33.7,966.6 L34.9,971.7ZM38.1,1008.9 L37.3,1003.6 L33.2,963.2 L34,968.3ZM33.4,964.9 L32.9,959.9 L37,1000.1 L37.5,1005.4ZM33,961.6 L32.9,956.5 L36.9,996.6 L37.1,1001.8ZM32.8,958.2 L33.1,953.2 L37.1,993.1 L36.9,998.3ZM32.9,954.8 L33.6,949.9 L37.6,989.6 L37,994.8ZM33.3,951.5 L34.3,946.6 L38.2,986.2 L37.3,991.3ZM33.9,948.2 L35.2,943.3 L39.1,982.7 L37.9,987.9ZM34.7,944.9 L36.4,940 L40.3,979.4 L38.7,984.4ZM35.8,941.7 L37.8,936.8 L41.6,976 L39.7,981ZM37,938.4 L39.4,933.7 L43.2,972.7 L40.9,977.7ZM38.5,935.3 L41.2,930.5 L44.9,969.4 L42.4,974.3ZM40.2,932.1 L43.2,927.5 L46.9,966.2 L44,971.1ZM42.2,929 L45.4,924.4 L49.1,963 L45.9,967.8ZM44.3,925.9 L47.1,922.4 L50.7,960.9 L48,964.6ZM46.6,922.9 L47.1,922.4 L50.7,960.9 L50.2,961.5Z" fill="url(#gC)" fill-rule="nonzero" stroke="url(#gC)" stroke-width="0.4"/>
<path d="M232.2,941.2 L426.4,950.2 L426.5,952.7 L426.4,955.2 L426.2,957.7 L425.9,960.3 L425.4,962.8 L424.7,965.3 L424,967.9 L423,970.4 L422,973 L420.7,975.5 L419.4,978 L417.8,980.5 L416.2,983.1 L414.4,985.6 L412.4,988 L410.3,990.5 L408,993 L405.6,995.4 L403,997.8 L400.3,1000.2 L397.4,1002.5 L394.4,1004.9 L391.3,1007.2 L388,1009.4 L384.5,1011.6 L381,1013.8 L377.2,1016 L373.4,1018.1 L369.4,1020.1 L365.3,1022.1 L361,1024 L356.7,1025.9 L352.2,1027.8 L347.5,1029.5 L342.8,1031.2 L338,1032.9 L333,1034.5 L328,1036 L322.8,1037.4 L317.6,1038.8 L312.2,1040.1 L306.8,1041.4 L301.3,1042.5 L295.8,1043.6 L290.1,1044.6 L284.4,1045.5 L278.7,1046.3 L272.8,1047.1 L267,1047.8 L261.1,1048.3 L255.2,1048.8 L249.2,1049.2 L243.2,1049.6 L237.2,1049.8 L231.2,1050 L225.2,1050 L219.2,1050 L213.2,1049.9 L207.3,1049.7 L201.3,1049.4 L195.4,1049 L189.5,1048.5 L183.7,1048 L177.9,1047.3 L172.1,1046.6 L166.4,1045.8 L160.8,1044.9 L155.3,1044 L149.8,1042.9 L144.4,1041.8 L139.1,1040.6 L133.9,1039.3 L128.8,1037.9 L123.7,1036.5 L118.8,1035 L114,1033.5 L109.3,1031.8 L104.8,1030.1 L100.3,1028.4 L96,1026.6 L91.8,1024.7 L87.7,1022.8 L83.8,1020.8 L80,1018.8 L76.3,1016.7 L72.8,1014.6 L69.4,1012.4 L66.2,1010.2 L63.1,1008 L60.2,1005.7 L57.4,1003.4 L54.7,1001 L52.2,998.7 L49.9,996.3 L47.7,993.8 L45.7,991.4 L43.8,988.9 L42.1,986.4 L40.5,983.9 L39,981.4 L37.8,978.9 L36.6,976.4 L35.7,973.8 L34.8,971.3 L34.1,968.8 L33.6,966.2 L33.2,963.7 L33,961.2 L32.9,958.6 L32.9,956.1 L33.1,953.6 L33.4,951.1 L33.8,948.6 L34.4,946.1 L35.1,943.7 L35.9,941.2 L36.9,938.8 L38,936.4 L39.2,934 L40.5,931.7 L41.9,929.4 L43.5,927.1 L45.2,924.8 L46.9,922.5 L48.8,920.3 L50.8,918.1 L52.9,916 L55.1,913.8 L57.5,911.7 L59.9,909.7 L62.3,907.7 L64.9,905.7 L67.6,903.7 L70.4,901.8 L73.2,899.9 L76.2,898.1 L79.2,896.3 L82.2,894.5 L85.4,892.8 L88.6,891.1 L92,889.5 L95.3,887.9 L98.8,886.3 L102.3,884.8 L105.8,883.3 L109.5,881.9 L113.1,880.5 L116.9,879.2 L120.7,877.9 L124.5,876.6 L128.4,875.4 L132.3,874.3 L136.3,873.2 L140.3,872.1 L144.4,871.1 L148.5,870.1 L152.6,869.2 L156.7,868.3 L160.9,867.4 L165.2,866.7 L169.4,865.9 L173.7,865.2 L178,864.6 L182.3,864 L186.7,863.4 L191,862.9 L195.4,862.5 L199.8,862.1 L204.2,861.7 L208.6,861.4 L213,861.1 L217.5,860.9 L221.9,860.7 L226.3,860.6 L230.8,860.5 L234.3,860.5Z" fill="#B9CD96" stroke="#B9CD96" stroke-width="0.6" stroke-linejoin="round"/>
</g>
<g><path d="M282.4,40.6 L289,40.6 L304,81.6" fill="none" stroke="#000" stroke-width="1.3"/><path d="M345,46 L345,88" fill="none" stroke="#000" stroke-width="1.3"/><path d="M429,40.6 L421,40.6 L352.4,89" fill="none" stroke="#000" stroke-width="1.3"/><path d="M409,68.8 L401,68.8 L368,92.4" fill="none" stroke="#000" stroke-width="1.3"/><path d="M557,45 L548.7,45 L420,112.4" fill="none" stroke="#000" stroke-width="1.3"/><path d="M464.4,110 L458,110 L453.6,137.4" fill="none" stroke="#000" stroke-width="1.3"/><path d="M469.4,138 L469.4,154" fill="none" stroke="#000" stroke-width="1.3"/><path d="M320.6,423.6 L328,423.6 L328,452.4" fill="none" stroke="#000" stroke-width="1.3"/><path d="M372.6,430.4 L372.6,458.4" fill="none" stroke="#000" stroke-width="1.3"/><path d="M415.6,423.6 L408,423.6 L373,458.6" fill="none" stroke="#000" stroke-width="1.3"/><path d="M494.4,423.6 L487,423.6 L382.4,460.4" fill="none" stroke="#000" stroke-width="1.3"/><path d="M644,439.5 L636,439.6 L400,465.5" fill="none" stroke="#000" stroke-width="1.3"/><path d="M549.5,437.4 L541.8,437.4 L515,532.4" fill="none" stroke="#000" stroke-width="1.3"/><path d="M204,800.4 L212,800.4 L312.4,834.4" fill="none" stroke="#000" stroke-width="1.3"/><path d="M295,800.4 L303,800.4 L357,840" fill="none" stroke="#000" stroke-width="1.3"/><path d="M358,805 L358,840" fill="none" stroke="#000" stroke-width="1.3"/><path d="M394.4,801.8 L387,801.8 L366,842.4" fill="none" stroke="#000" stroke-width="1.3"/><path d="M410,831 L403,831 L383,846.6" fill="none" stroke="#000" stroke-width="1.3"/><path d="M508,807 L500.6,807 L480.2,895.3" fill="none" stroke="#000" stroke-width="1.3"/><path d="M587.6,806.6 L581,806.6 L497.5,913.7" fill="none" stroke="#000" stroke-width="1.3"/></g>
<g font-family="Liberation Sans, sans-serif" font-weight="bold" font-size="14.4" letter-spacing="0.4" fill="#000">
<rect x="199" y="31.4" width="9" height="9" fill="#4572A7"/><text x="216.3" y="41.1">23751.67</text>
<rect x="306.3" y="32.4" width="9" height="9" fill="#AA4643"/><text x="322.9" y="42.1">94.00</text>
<rect x="313.6" y="60" width="9" height="9" fill="#89A54E"/><text x="330.3" y="69.7">21.33</text>
<rect x="437" y="31.4" width="9" height="9" fill="#71588F"/><text x="453.7" y="41.1">4345.67</text>
<rect x="417" y="60" width="9" height="9" fill="#4198AF"/><text x="434.3" y="69.7">5066.67</text>
<rect x="565.4" y="36.4" width="9" height="9" fill="#DB843D"/><text x="582.3" y="46.1">30399.00</text>
<rect x="473" y="99.8" width="9" height="9" fill="#93A9CF"/><text x="490.3" y="109.5">50.00</text>
<rect x="464.4" y="124.6" width="9" height="9" fill="#D19392"/><text x="481.3" y="134.3">20370.00</text>
<rect x="236" y="413.4" width="9" height="9" fill="#4572A7"/><text x="253.3" y="423.1">20841.33</text>
<rect x="339.4" y="416" width="9" height="9" fill="#AA4643"/><text x="356.3" y="425.7">91.00</text>
<rect x="424.2" y="413.4" width="9" height="9" fill="#89A54E"/><text x="441.3" y="423.1">22.67</text>
<rect x="496.6" y="412.4" width="9" height="9" fill="#71588F"/><text x="513.7" y="422.1">4023.67</text>
<rect x="644.7" y="430.2" width="9" height="9" fill="#4198AF"/><text x="661.3" y="439.9">4684.67</text>
<rect x="469" y="476" width="9" height="9" fill="#DB843D"/><text x="485.7" y="485.7">27209.33</text>
<rect x="511.4" y="497" width="9" height="9" fill="#93A9CF"/><text x="528.3" y="506.7">45.00</text>
<rect x="553.6" y="430.2" width="9" height="9" fill="#D19392"/><text x="568.7" y="439.9">18475.33</text>
<rect x="119.6" y="790.6" width="9" height="9" fill="#4572A7"/><text x="136.9" y="800.3">20377.79</text>
<rect x="237" y="790.8" width="9" height="9" fill="#AA4643"/><text x="254.3" y="800.5">76.71</text>
<rect x="320" y="792" width="9" height="9" fill="#89A54E"/><text x="338.3" y="801.7">19.28</text>
<rect x="402.6" y="793" width="9" height="9" fill="#71588F"/><text x="419.9" y="802.7">3866.22</text>
<rect x="419" y="821.4" width="9" height="9" fill="#4198AF"/><text x="436.3" y="831.1">4500.01</text>
<rect x="446" y="855" width="9" height="9" fill="#DB843D"/><text x="463.3" y="864.7">26599.11</text>
<rect x="516.6" y="798" width="9" height="9" fill="#93A9CF"/><text x="533.3" y="807.7">42.39</text>
<rect x="596" y="798" width="9" height="9" fill="#D19392"/><text x="612.9" y="807.7">17702.34</text>
<rect x="86" y="208.4" width="9" height="9" fill="#BCD09A"/><text x="102.3" y="218.1">233142.67</text>
<rect x="80" y="597" width="9" height="9" fill="#BCD09A"/><text x="98.3" y="606.7">209230.33</text>
<rect x="68" y="977.4" width="9" height="9" fill="#BCD09A"/><text x="86.9" y="987.1">202372.48</text>
<rect x="602" y="73.6" width="9" height="9" fill="#4572A7"/><text x="615.4" y="82.2" font-size="14" letter-spacing="0" textLength="68" lengthAdjust="spacingAndGlyphs">Upstream</text><rect x="602" y="107.2" width="9" height="9" fill="#AA4643"/><text x="615.4" y="115.8" font-size="14" letter-spacing="0" textLength="64" lengthAdjust="spacingAndGlyphs">Stop gain</text><rect x="602" y="140.9" width="9" height="9" fill="#89A54E"/><text x="615.4" y="149.5" font-size="14" letter-spacing="0" textLength="61.4" lengthAdjust="spacingAndGlyphs">Stop loss</text><rect x="602" y="174.5" width="9" height="9" fill="#71588F"/><text x="615.4" y="183.1" font-size="14" letter-spacing="0" textLength="88.4" lengthAdjust="spacingAndGlyphs">Synonymous</text><rect x="602" y="208.1" width="9" height="9" fill="#4198AF"/><text x="615.4" y="216.7" font-size="14" letter-spacing="0" textLength="121.4" lengthAdjust="spacingAndGlyphs">Non-synonymous</text><rect x="602" y="241.8" width="9" height="9" fill="#DB843D"/><text x="615.4" y="250.3" font-size="14" letter-spacing="0" textLength="53.8" lengthAdjust="spacingAndGlyphs">Intronic</text><rect x="602" y="275.4" width="9" height="9" fill="#93A9CF"/><text x="615.4" y="284" font-size="14" letter-spacing="0" textLength="52.8" lengthAdjust="spacingAndGlyphs">Splicing</text><rect x="602" y="309" width="9" height="9" fill="#D19392"/><text x="615.4" y="317.6" font-size="14" letter-spacing="0" textLength="89" lengthAdjust="spacingAndGlyphs">Downstream</text><rect x="602" y="342.6" width="9" height="9" fill="#B9CD96"/><text x="615.4" y="351.2" font-size="14" letter-spacing="0" textLength="69.8" lengthAdjust="spacingAndGlyphs">Intergenic</text>
<rect x="601.6" y="484" width="9" height="9" fill="#4572A7"/><text x="615" y="492.6" font-size="14" letter-spacing="0" textLength="68" lengthAdjust="spacingAndGlyphs">Upstream</text><rect x="601.6" y="514.1" width="9" height="9" fill="#AA4643"/><text x="615" y="522.7" font-size="14" letter-spacing="0" textLength="64" lengthAdjust="spacingAndGlyphs">Stop gain</text><rect x="601.6" y="544.2" width="9" height="9" fill="#89A54E"/><text x="615" y="552.8" font-size="14" letter-spacing="0" textLength="61.4" lengthAdjust="spacingAndGlyphs">Stop loss</text><rect x="601.6" y="574.3" width="9" height="9" fill="#71588F"/><text x="615" y="582.9" font-size="14" letter-spacing="0" textLength="88.4" lengthAdjust="spacingAndGlyphs">Synonymous</text><rect x="601.6" y="604.4" width="9" height="9" fill="#4198AF"/><text x="615" y="613" font-size="14" letter-spacing="0" textLength="121.4" lengthAdjust="spacingAndGlyphs">Non-synonymous</text><rect x="601.6" y="634.5" width="9" height="9" fill="#DB843D"/><text x="615" y="643.1" font-size="14" letter-spacing="0" textLength="53.8" lengthAdjust="spacingAndGlyphs">Intronic</text><rect x="601.6" y="664.6" width="9" height="9" fill="#93A9CF"/><text x="615" y="673.2" font-size="14" letter-spacing="0" textLength="52.8" lengthAdjust="spacingAndGlyphs">Splicing</text><rect x="601.6" y="694.7" width="9" height="9" fill="#D19392"/><text x="615" y="703.3" font-size="14" letter-spacing="0" textLength="89" lengthAdjust="spacingAndGlyphs">Downstream</text><rect x="601.6" y="724.8" width="9" height="9" fill="#B9CD96"/><text x="615" y="733.4" font-size="14" letter-spacing="0" textLength="69.8" lengthAdjust="spacingAndGlyphs">Intergenic</text>
<rect x="597.4" y="864.4" width="9" height="9" fill="#4572A7"/><text x="611" y="873" font-size="14" letter-spacing="0" textLength="68" lengthAdjust="spacingAndGlyphs">Upstream</text><rect x="597.4" y="894.4" width="9" height="9" fill="#AA4643"/><text x="611" y="903" font-size="14" letter-spacing="0" textLength="64" lengthAdjust="spacingAndGlyphs">Stop gain</text><rect x="597.4" y="924.4" width="9" height="9" fill="#89A54E"/><text x="611" y="933" font-size="14" letter-spacing="0" textLength="61.4" lengthAdjust="spacingAndGlyphs">Stop loss</text><rect x="597.4" y="954.4" width="9" height="9" fill="#71588F"/><text x="611" y="963" font-size="14" letter-spacing="0" textLength="88.4" lengthAdjust="spacingAndGlyphs">Synonymous</text><rect x="597.4" y="984.4" width="9" height="9" fill="#4198AF"/><text x="611" y="993" font-size="14" letter-spacing="0" textLength="121.4" lengthAdjust="spacingAndGlyphs">Non-synonymous</text><rect x="597.4" y="1014.4" width="9" height="9" fill="#DB843D"/><text x="611" y="1023" font-size="14" letter-spacing="0" textLength="53.8" lengthAdjust="spacingAndGlyphs">Intronic</text><rect x="597.4" y="1044.4" width="9" height="9" fill="#93A9CF"/><text x="611" y="1053" font-size="14" letter-spacing="0" textLength="52.8" lengthAdjust="spacingAndGlyphs">Splicing</text><rect x="597.4" y="1074.4" width="9" height="9" fill="#D19392"/><text x="611" y="1083" font-size="14" letter-spacing="0" textLength="89" lengthAdjust="spacingAndGlyphs">Downstream</text><rect x="597.4" y="1104.4" width="9" height="9" fill="#B9CD96"/><text x="611" y="1113" font-size="14" letter-spacing="0" textLength="69.8" lengthAdjust="spacingAndGlyphs">Intergenic</text>
</g>
<g font-family="Liberation Serif, serif" font-weight="bold" font-size="26" fill="#000">
<text transform="translate(5.6,358.9) scale(0.93,1)" font-size="28">a</text><text transform="translate(7.4,741.4) scale(1.0,1)" font-size="24.8">b</text><text transform="translate(5.6,1128) scale(0.93,1)" font-size="28">c</text>
</g>
</svg>
</body></html>
